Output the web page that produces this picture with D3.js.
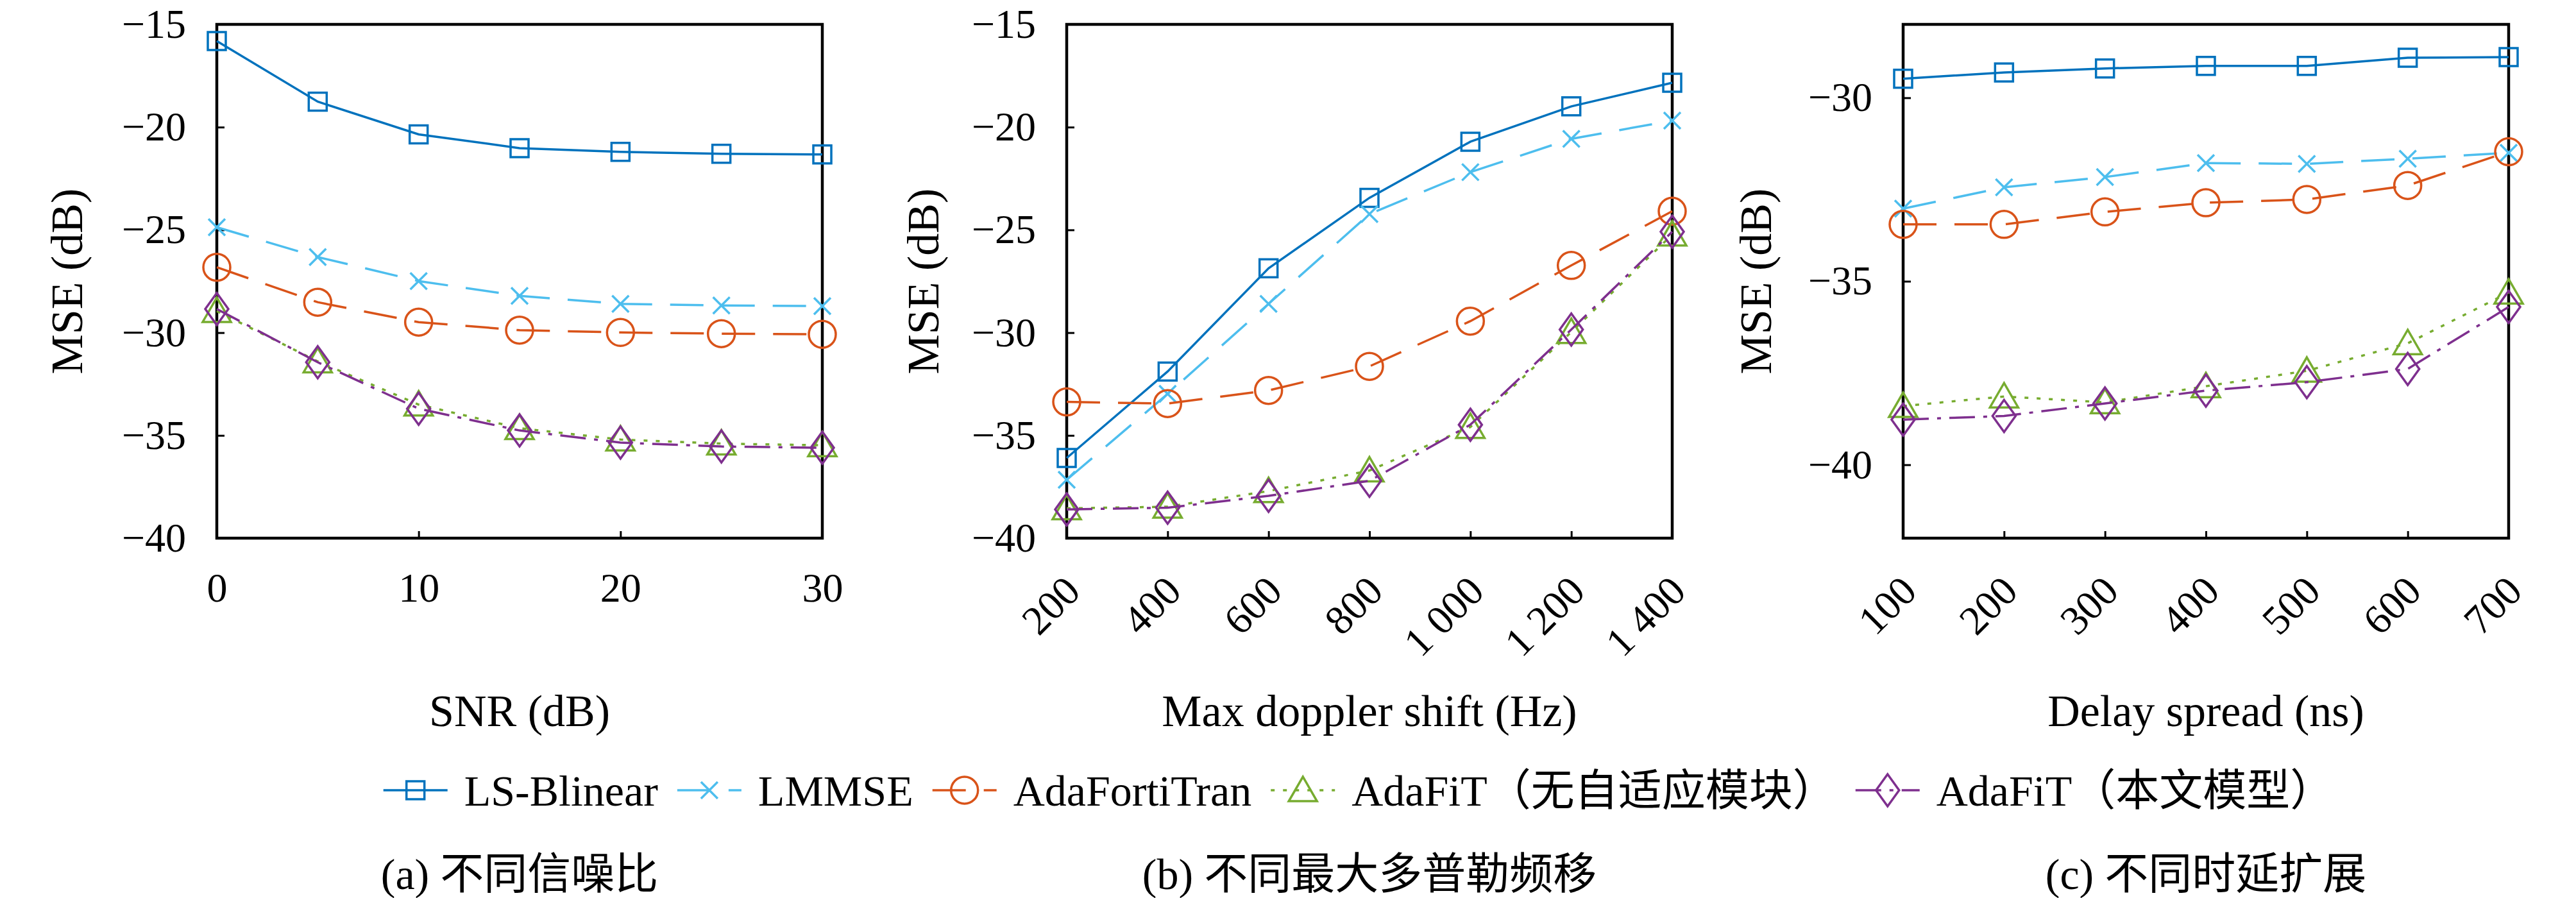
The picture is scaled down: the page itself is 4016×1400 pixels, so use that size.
<!DOCTYPE html>
<html>
<head>
<meta charset="utf-8">
<script src="https://cdn.jsdelivr.net/npm/d3@7"></script>
<style>
  body { margin: 0; background: #fff; }
  text { font-family: "Liberation Serif", "Noto Sans CJK SC", serif; fill: #000; }
</style>
</head>
<body>
<svg id="chart" width="4016" height="1400"></svg>
<script>
//* Data
const seriesNames = ["LS-Blinear", "LMMSE", "AdaFortiTran", "AdaFiT（无自适应模块）", "AdaFiT（本文模型）"];

// (a) SNR
const snrX = [0, 5, 10, 15, 20, 25, 30];
const snrLS = [-15.81, -18.76, -20.35, -21.02, -21.2, -21.3, -21.33];
const snrLMMSE = [-24.87, -26.32, -27.49, -28.21, -28.6, -28.68, -28.71];
const snrFortiTran = [-26.82, -28.52, -29.49, -29.88, -29.99, -30.05, -30.08];
const snrNoAdapt = [-28.95, -31.4, -33.5, -34.65, -35.2, -35.4, -35.48];
const snrAdaFiT = [-28.85, -31.44, -33.7, -34.76, -35.35, -35.54, -35.6];
const snrTicks = [0, 10, 20, 30];
const snrTickLabels = ["0", "10", "20", "30"];

// (b) Doppler
const dopplerX = [200, 400, 600, 800, 1000, 1200, 1400];
const dopplerLS = [-36.1, -31.89, -26.87, -23.44, -20.71, -18.99, -17.84];
const dopplerLMMSE = [-37.16, -32.98, -28.6, -24.23, -22.19, -20.57, -19.68];
const dopplerFortiTran = [-33.37, -33.45, -32.81, -31.64, -29.44, -26.73, -24.09];
const dopplerNoAdapt = [-38.55, -38.47, -37.71, -36.71, -34.59, -29.97, -25.23];
const dopplerAdaFiT = [-38.6, -38.52, -37.94, -37.21, -34.48, -29.85, -25.09];
const dopplerTicks = [200, 400, 600, 800, 1000, 1200, 1400];
const dopplerTickLabels = ["200", "400", "600", "800", "1 000", "1 200", "1 400"];

// (c) Delay spread
const delayX = [100, 200, 300, 400, 500, 600, 700];
const delayLS = [-29.48, -29.31, -29.2, -29.13, -29.13, -28.91, -28.89];
const delayLMMSE = [-33.02, -32.44, -32.16, -31.78, -31.8, -31.66, -31.5];
const delayFortiTran = [-33.45, -33.45, -33.11, -32.86, -32.77, -32.39, -31.47];
const delayNoAdapt = [-38.4, -38.14, -38.3, -37.86, -37.44, -36.69, -35.31];
const delayAdaFiT = [-38.77, -38.67, -38.33, -37.98, -37.75, -37.39, -35.7];
const delayTicks = [100, 200, 300, 400, 500, 600, 700];
const delayTickLabels = ["100", "200", "300", "400", "500", "600", "700"];

const mseTicksAB = [-40, -35, -30, -25, -20, -15];
const mseTickLabelsAB = ["\u221240", "\u221235", "\u221230", "\u221225", "\u221220", "\u221215"];
const mseTicksC = [-40, -35, -30];
const mseTickLabelsC = ["\u221240", "\u221235", "\u221230"];

const xTitles = ["SNR (dB)", "Max doppler shift (Hz)", "Delay spread (ns)"];
const yTitle = "MSE (dB)";
const captions = ["(a) 不同信噪比", "(b) 不同最大多普勒频移", "(c) 不同时延扩展"];

//* Styles
const seriesStyle = [
  { color: "#0072BD", dash: null, marker: "square" },
  { color: "#4DBEEE", dash: "52,28", marker: "cross" },
  { color: "#D95319", dash: "52,28", marker: "circle" },
  { color: "#77AC30", dash: "6,13", marker: "triangle" },
  { color: "#7E2F8E", dash: "40,13,6,13", marker: "diamond" }
];

function markerPath(type) {
  switch (type) {
    case "square": return "M-14,-14h28v28h-28z";
    case "cross": return "M-13,-13L13,13M-13,13L13,-13";
    case "circle": return "M-21,0a21,21 0 1,0 42,0a21,21 0 1,0 -42,0";
    case "triangle": return "M0,-21L22,17L-22,17Z";
    case "diamond": return "M0,-25L18,0L0,25L-18,0Z";
  }
}

const svg = d3.select("#chart");
svg.append("rect").attr("width", 4016).attr("height", 1400).attr("fill", "#fff");

const plotTop = 38, plotBottom = 839, plotWidth = 944;
const fontSize = 64;
const titleSize = 70;

const panels = [
  { left: 338, xDomain: [0, 30], yDomain: [-40, -15], x: snrX,
    series: [snrLS, snrLMMSE, snrFortiTran, snrNoAdapt, snrAdaFiT],
    xTicks: snrTicks, xLabels: snrTickLabels, rotate: false,
    yTicks: mseTicksAB, yLabels: mseTickLabelsAB, yTitleX: 103 },
  { left: 1663, xDomain: [200, 1400], yDomain: [-40, -15], x: dopplerX,
    series: [dopplerLS, dopplerLMMSE, dopplerFortiTran, dopplerNoAdapt, dopplerAdaFiT],
    xTicks: dopplerTicks, xLabels: dopplerTickLabels, rotate: true,
    yTicks: mseTicksAB, yLabels: mseTickLabelsAB, yTitleX: 1438 },
  { left: 2967, xDomain: [100, 700], yDomain: [-42, -28], x: delayX,
    series: [delayLS, delayLMMSE, delayFortiTran, delayNoAdapt, delayAdaFiT],
    xTicks: delayTicks, xLabels: delayTickLabels, rotate: true,
    yTicks: mseTicksC, yLabels: mseTickLabelsC, yTitleX: 2736 }
];

panels.forEach((p, pi) => drawPanel(p, pi));

function drawPanel(p, pi) {
  const x = d3.scaleLinear().domain(p.xDomain).range([p.left, p.left + plotWidth]);
  const y = d3.scaleLinear().domain(p.yDomain).range([plotBottom, plotTop]);
  const g = svg.append("g");

  // frame
  g.append("rect")
    .attr("x", x.range()[0]).attr("y", plotTop)
    .attr("width", plotWidth).attr("height", plotBottom - plotTop)
    .attr("fill", "none").attr("stroke", "#000").attr("stroke-width", 4.5);

  // x axis
  const xAxis = g.append("g")
    .attr("transform", `translate(0,${plotBottom})`)
    .call(d3.axisBottom(x).tickValues(p.xTicks).tickSize(-11).tickPadding(54)
      .tickFormat((d, i) => p.xLabels[i]))
    .attr("font-size", fontSize);
  xAxis.select(".domain").remove();
  xAxis.selectAll(".tick line").attr("stroke-width", 3);
  if (p.rotate) {
    xAxis.selectAll(".tick text")
      .attr("y", 0).attr("dy", 0)
      .attr("text-anchor", "end")
      .attr("transform", "translate(24,86) rotate(-45)");
  }

  // y axis
  const yAxis = g.append("g")
    .attr("transform", `translate(${p.left},0)`)
    .call(d3.axisLeft(y).tickValues(p.yTicks).tickSize(-12).tickPadding(48)
      .tickFormat((d, i) => p.yLabels[i]))
    .attr("font-size", fontSize);
  yAxis.select(".domain").remove();
  yAxis.selectAll(".tick line").attr("stroke-width", 3);

  // titles
  g.append("text")
    .attr("transform", `translate(${p.yTitleX},${(plotTop + plotBottom) / 2}) rotate(-90)`)
    .attr("text-anchor", "middle").attr("dy", "0.35em")
    .attr("font-size", titleSize)
    .text(yTitle);
  g.append("text")
    .attr("x", p.left + plotWidth / 2).attr("y", 1107).attr("dy", "0.35em")
    .attr("text-anchor", "middle").attr("font-size", titleSize)
    .text(xTitles[pi]);
  g.append("text")
    .attr("x", p.left + plotWidth / 2).attr("y", 1362).attr("dy", "0.35em")
    .attr("text-anchor", "middle").attr("font-size", 68)
    .text(captions[pi]);

  // lines
  const line = d3.line().x(d => x(d[0])).y(d => y(d[1]));
  p.series.forEach((vals, si) => {
    const st = seriesStyle[si];
    const pts = vals.map((v, i) => [p.x[i], v]);
    g.append("path")
      .datum(pts)
      .attr("d", line)
      .attr("fill", "none")
      .attr("stroke", st.color)
      .attr("stroke-width", 3.5)
      .attr("stroke-dasharray", st.dash);
    g.selectAll(null)
      .data(pts)
      .join("path")
      .attr("transform", d => `translate(${x(d[0])},${y(d[1])})`)
      .attr("d", markerPath(st.marker))
      .attr("fill", "none")
      .attr("stroke", st.color)
      .attr("stroke-width", 3.5);
  });
}

//* Legend
const legend = svg.append("g");
let cursor = 0;
const sampleLen = 100, textGap = 26, itemGap = 30, legendY = 1232;
seriesNames.forEach((name, si) => {
  const st = seriesStyle[si];
  const item = legend.append("g").attr("transform", `translate(${cursor},0)`);
  item.append("line")
    .attr("x1", 0).attr("x2", sampleLen).attr("y1", legendY).attr("y2", legendY)
    .attr("stroke", st.color).attr("stroke-width", 3.5)
    .attr("stroke-dasharray", st.dash);
  item.append("path")
    .attr("transform", `translate(${sampleLen / 2},${legendY})`)
    .attr("d", markerPath(st.marker))
    .attr("fill", "none").attr("stroke", st.color).attr("stroke-width", 3.5);
  const t = item.append("text")
    .attr("x", sampleLen + textGap).attr("y", legendY).attr("dy", "0.35em")
    .attr("font-size", 68)
    .text(name);
  cursor += sampleLen + textGap + t.node().getComputedTextLength() + itemGap;
});
const legendWidth = cursor - itemGap;
legend.attr("transform", `translate(${2118 - legendWidth / 2},0)`);
</script>
</body>
</html>
